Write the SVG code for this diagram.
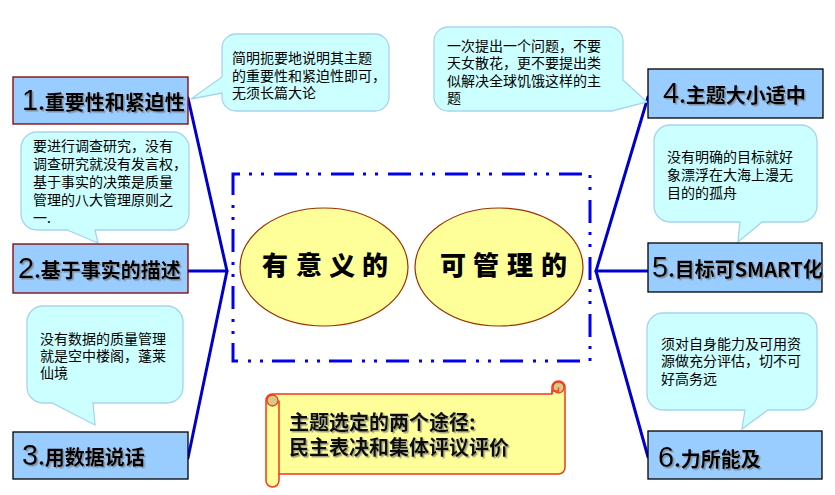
<svg xmlns="http://www.w3.org/2000/svg" width="835" height="495" viewBox="0 0 835 495">
<defs>
<filter id="sh" x="-10%" y="-20%" width="130%" height="150%">
<feDropShadow dx="1.5" dy="1.5" stdDeviation="0.7" flood-color="#777" flood-opacity="0.7"/>
</filter>
<style>
.box{fill:#99ccff;stroke:#000;stroke-width:1.3}
.box.m{stroke:#800000}
.num{font-family:"Liberation Sans",Arial,sans-serif;font-size:29px;fill:#000}
.lab{font-family:"Noto Sans CJK SC",sans-serif;font-size:20px;font-weight:700;fill:#000}
.call{fill:#ccffff;stroke:#a6d4ee;stroke-width:1.3}
.ct{font-family:"Noto Sans CJK SC",sans-serif;font-size:14px;fill:#000}
.conn{stroke:#0000cc;stroke-width:3;fill:none;stroke-linecap:round}
.ell{fill:#ffff99;stroke:#993300;stroke-width:1.2}
.et{font-family:"Noto Sans CJK SC",sans-serif;font-size:26px;font-weight:900;fill:#000}
.sc{fill:#ffff99;stroke:#ee3a1c;stroke-width:1.5;stroke-linejoin:round}
.tan{fill:#d6c983;stroke:#ee3a1c;stroke-width:1.3}
.st{font-family:"Noto Sans CJK SC",sans-serif;font-size:20px;font-weight:700;fill:#111}
</style>
</defs>
<rect width="835" height="495" fill="#fff"/>

<g id="connectors">
<polyline class="conn" points="188,98 227,271 188,458"/>
<line class="conn" x1="188" y1="271" x2="227" y2="271"/>
<polyline class="conn" points="648,97 596,271 648,457"/>
<line class="conn" x1="596" y1="271" x2="648" y2="271"/>
</g>

<g id="frame">
<rect x="233" y="174" width="357" height="187" fill="none" stroke="#0000ee" stroke-width="3" stroke-dasharray="23 9 3 9 3 10" stroke-dashoffset="16"/>
</g>

<g id="callout1">
<path class="call" d="M236,34 H375 A14,14 0 0 1 389,48 V97 A14,14 0 0 1 375,111 H236 A14,14 0 0 1 222,97 V93 L191,99 L222,77 V48 A14,14 0 0 1 236,34 Z"/>
<text class="ct" x="232"><tspan x="232" y="63">简明扼要地说明其主题</tspan><tspan x="232" y="81">的重要性和紧迫性即可，</tspan><tspan x="232" y="98">无须长篇大论</tspan></text>
</g>
<g id="callout2">
<path class="call" d="M37,132 H173 A16,16 0 0 1 189,148 V214 A16,16 0 0 1 173,230 H95 L98,243 L67,230 H37 A16,16 0 0 1 21,214 V148 A16,16 0 0 1 37,132 Z"/>
<text class="ct"><tspan x="33" y="151">要进行调查研究，没有</tspan><tspan x="33" y="169">调查研究就没有发言权，</tspan><tspan x="33" y="187">基于事实的决策是质量</tspan><tspan x="33" y="205">管理的八大管理原则之</tspan><tspan x="33" y="223">一.</tspan></text>
</g>
<g id="callout3">
<path class="call" d="M43,306 H167 A16,16 0 0 1 183,322 V387 A16,16 0 0 1 167,403 H93 L95,425 L52,403 H43 A16,16 0 0 1 27,387 V322 A16,16 0 0 1 43,306 Z"/>
<text class="ct"><tspan x="40" y="344">没有数据的质量管理</tspan><tspan x="40" y="361">就是空中楼阁，蓬莱</tspan><tspan x="40" y="378">仙境</tspan></text>
</g>
<g id="callout4">
<path class="call" d="M448,27 H609 A14,14 0 0 1 623,41 V80 L647,102 L612,111 H448 A14,14 0 0 1 434,97 V41 A14,14 0 0 1 448,27 Z"/>
<text class="ct"><tspan x="447" y="50.5">一次提出一个问题，不要</tspan><tspan x="447" y="68">天女散花，更不要提出类</tspan><tspan x="447" y="85.5">似解决全球饥饿这样的主</tspan><tspan x="447" y="103">题</tspan></text>
</g>
<g id="callout5">
<path class="call" d="M670,125 H801 A16,16 0 0 1 817,141 V206 A16,16 0 0 1 801,222 H762 L738,242 L740,222 H670 A16,16 0 0 1 654,206 V141 A16,16 0 0 1 670,125 Z"/>
<text class="ct"><tspan x="667" y="162">没有明确的目标就好</tspan><tspan x="667" y="180">象漂浮在大海上漫无</tspan><tspan x="667" y="197.5">目的的孤舟</tspan></text>
</g>
<g id="callout6">
<path class="call" d="M663,313 H801 A16,16 0 0 1 817,329 V394 A16,16 0 0 1 801,410 H768 L742,429 L745,410 H663 A16,16 0 0 1 647,394 V329 A16,16 0 0 1 663,313 Z"/>
<text class="ct"><tspan x="661" y="348.5">须对自身能力及可用资</tspan><tspan x="661" y="366">源做充分评估，切不可</tspan><tspan x="661" y="383.5">好高务远</tspan></text>
</g>

<g id="node1">
<rect class="box m" x="13" y="77" width="175" height="47"/>
<text x="22" y="110" filter="url(#sh)"><tspan class="num">1</tspan><tspan class="lab">.重要性和紧迫性</tspan></text>
</g>
<g id="node2">
<rect class="box m" x="13" y="244" width="175" height="49"/>
<text x="18" y="278" filter="url(#sh)"><tspan class="num">2</tspan><tspan class="lab">.基于事实的描述</tspan></text>
</g>
<g id="node3">
<rect class="box" x="13" y="432" width="175" height="47"/>
<text x="22" y="465" filter="url(#sh)"><tspan class="num">3</tspan><tspan class="lab">.用数据说话</tspan></text>
</g>
<g id="node4">
<rect class="box" x="648" y="69" width="175" height="49"/>
<text x="663" y="103" filter="url(#sh)"><tspan class="num">4</tspan><tspan class="lab">.主题大小适中</tspan></text>
</g>
<g id="node5">
<rect class="box" x="648" y="243" width="174" height="49"/>
<text x="652" y="277" filter="url(#sh)"><tspan class="num">5</tspan><tspan class="lab">.目标可SMART化</tspan></text>
</g>
<g id="node6">
<rect class="box" x="648" y="431" width="174" height="48"/>
<text x="658" y="467" filter="url(#sh)"><tspan class="num">6</tspan><tspan class="lab">.力所能及</tspan></text>
</g>

<g id="ellipse-meaningful">
<ellipse class="ell" cx="324" cy="267" rx="84" ry="59"/>
<text class="et" x="262 296 329 362" y="275">有意义的</text>
</g>
<g id="ellipse-manageable">
<ellipse class="ell" cx="499" cy="267" rx="84" ry="59"/>
<text class="et" x="440 473 507 541" y="275">可管理的</text>
</g>

<g id="scroll">
<path class="sc" d="M266,400.5 A6.5,6.5 0 0 1 272.5,394 H552 V387.5 A6.5,6.5 0 0 1 558.5,381 A6.5,6.5 0 0 1 565,387.5 V467.5 A6.5,6.5 0 0 1 558.5,474 H279 V480.5 A6.5,6.5 0 0 1 272.5,487 A6.5,6.5 0 0 1 266,480.5 Z"/>
<path class="sc" d="M279,400.5 V474" fill="none"/>
<circle class="tan" cx="272.5" cy="400.5" r="5.5"/>
<circle class="tan" cx="558.5" cy="387.5" r="5.5"/>
<path d="M552,394 V391 H558.5 V387.5" fill="none" stroke="#ee3a1c" stroke-width="1.3"/>
<text class="st" filter="url(#sh)"><tspan x="289" y="430">主题选定的两个途径:</tspan><tspan x="289" y="455">民主表决和集体评议评价</tspan></text>
</g>
</svg>
